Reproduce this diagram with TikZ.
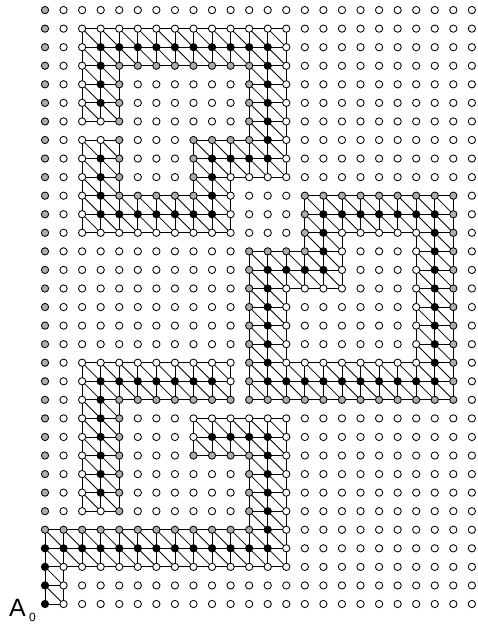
\documentclass[tikz,border=0pt]{standalone}
\usepackage{fontspec}
\setmainfont{Liberation Sans}
\definecolor{nodegray}{gray}{0.68}
\tikzset{
  dot/.style={circle,draw=black,line width=0.85pt,minimum size=7.3pt,inner sep=0pt,outer sep=0pt},
  mesh/.style={draw=black,line width=0.8pt},
}
% node colours
\newcommand\paintnodes[5]{\foreach \pa in {#2,...,#3}{\foreach \pb in {#4,...,#5}{%
  \expandafter\xdef\csname col-\pa-\pb\endcsname{#1}}}}
% one edge, drawn only once
\newcommand\meshedge[4]{\ifcsname seen-#1-#2-#3-#4\endcsname\else
  \expandafter\xdef\csname seen-#1-#2-#3-#4\endcsname{1}%
  \draw[mesh] (n-#1-#2) -- (n-#3-#4);\fi}
% block of cells: i0..i1, j0..j1 (node indices)
\newcommand\cellblock[4]{%
  \pgfmathtruncatemacro\iend{#2-1}\pgfmathtruncatemacro\jend{#4-1}%
  \foreach \ci in {#1,...,\iend}{\foreach \cj in {#3,...,\jend}{%
    \pgfmathtruncatemacro\ri{\ci+1}\pgfmathtruncatemacro\tj{\cj+1}%
    \meshedge{\ci}{\cj}{\ri}{\cj}%
    \meshedge{\ci}{\tj}{\ri}{\tj}%
    \meshedge{\ci}{\cj}{\ci}{\tj}%
    \meshedge{\ri}{\cj}{\ri}{\tj}%
    \meshedge{\ci}{\tj}{\ri}{\cj}%
  }}}
\begin{document}
\begin{tikzpicture}[x=1pt,y=1pt]
\useasboundingbox (0,0) rectangle (478,624);
% gray nodes
\paintnodes{nodegray}{0}{0}{4}{32}
\paintnodes{nodegray}{0}{11}{4}{4}
\paintnodes{nodegray}{11}{11}{4}{8}
\paintnodes{nodegray}{8}{11}{8}{8}
\paintnodes{nodegray}{4}{10}{11}{11}
\paintnodes{nodegray}{4}{4}{5}{11}
\paintnodes{nodegray}{11}{11}{11}{19}
\paintnodes{nodegray}{11}{14}{19}{19}
\paintnodes{nodegray}{14}{14}{19}{22}
\paintnodes{nodegray}{14}{22}{22}{22}
\paintnodes{nodegray}{22}{22}{11}{22}
\paintnodes{nodegray}{11}{22}{11}{11}
\paintnodes{nodegray}{4}{11}{29}{29}
\paintnodes{nodegray}{4}{4}{26}{29}
\paintnodes{nodegray}{11}{11}{25}{29}
\paintnodes{nodegray}{8}{11}{25}{25}
\paintnodes{nodegray}{8}{8}{22}{25}
\paintnodes{nodegray}{4}{8}{22}{22}
\paintnodes{nodegray}{4}{4}{22}{25}
% black nodes
\paintnodes{black}{0}{0}{0}{3}
\paintnodes{black}{0}{12}{3}{3}
\paintnodes{black}{12}{12}{3}{9}
\paintnodes{black}{9}{12}{9}{9}
\paintnodes{black}{3}{9}{12}{12}
\paintnodes{black}{3}{3}{6}{12}
\paintnodes{black}{12}{12}{12}{18}
\paintnodes{black}{12}{15}{18}{18}
\paintnodes{black}{15}{15}{18}{21}
\paintnodes{black}{15}{21}{21}{21}
\paintnodes{black}{21}{21}{12}{21}
\paintnodes{black}{12}{21}{12}{12}
\paintnodes{black}{3}{12}{30}{30}
\paintnodes{black}{3}{3}{27}{30}
\paintnodes{black}{12}{12}{24}{30}
\paintnodes{black}{9}{12}{24}{24}
\paintnodes{black}{9}{9}{21}{24}
\paintnodes{black}{3}{9}{21}{21}
\paintnodes{black}{3}{3}{21}{24}
% all nodes
\foreach \i in {0,...,23}{\foreach \j in {0,...,32}{%
  \ifcsname col-\i-\j\endcsname\edef\nc{\csname col-\i-\j\endcsname}\else\def\nc{white}\fi
  \node[dot,fill=\nc] (n-\i-\j) at ({45+18.56*\i},{20+18.56*\j}) {};
}}
% mesh
\cellblock{0}{1}{0}{2}
\cellblock{0}{13}{2}{4}
\cellblock{11}{13}{4}{10}
\cellblock{8}{13}{8}{10}
\cellblock{2}{10}{11}{13}
\cellblock{2}{4}{5}{13}
\cellblock{11}{22}{11}{13}
\cellblock{11}{13}{11}{19}
\cellblock{11}{16}{17}{19}
\cellblock{14}{16}{17}{22}
\cellblock{14}{22}{20}{22}
\cellblock{20}{22}{11}{22}
\cellblock{2}{13}{29}{31}
\cellblock{2}{4}{26}{31}
\cellblock{11}{13}{23}{31}
\cellblock{8}{13}{23}{25}
\cellblock{8}{10}{20}{25}
\cellblock{2}{10}{20}{22}
\cellblock{2}{4}{20}{25}
% label
\node[anchor=base west,inner sep=0pt,font=\fontsize{25}{25}\selectfont] (alabel) at (9,7) {A};
\node[anchor=base west,inner sep=0pt,font=\fontsize{12}{12}\selectfont] (asub) at (29,2.5) {0};
\end{tikzpicture}
\end{document}
